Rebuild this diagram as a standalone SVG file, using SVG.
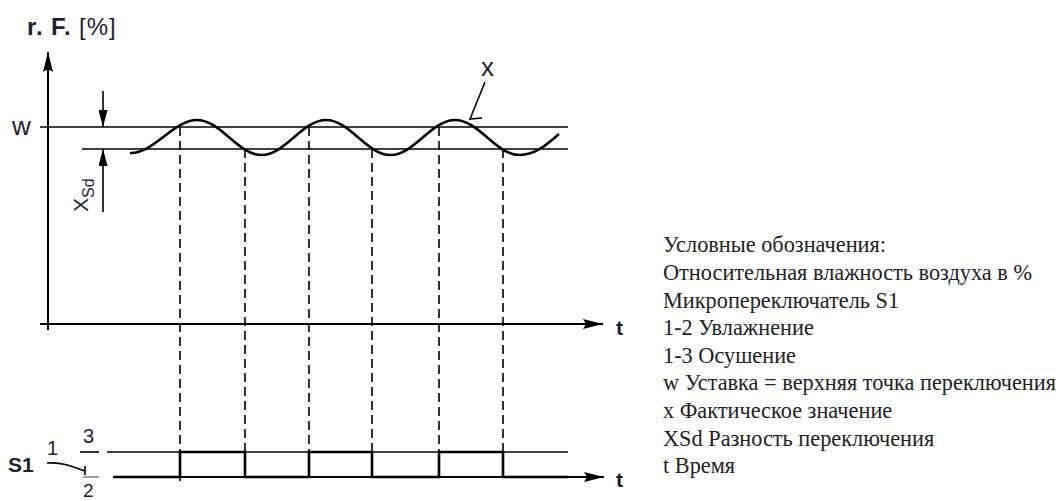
<svg xmlns="http://www.w3.org/2000/svg" width="1063" height="501" viewBox="0 0 1063 501">
<defs>
<style>
.ax{stroke:#000;stroke-width:2;fill:none}
.thin{stroke:#000;stroke-width:1.6;fill:none}
.dash{stroke:#000;stroke-width:1.6;fill:none;stroke-dasharray:9 5}
.sig{stroke:#000;stroke-width:2.6;fill:none}
.wave{stroke:#000;stroke-width:2.6;fill:none}
.lbl{font-family:"Liberation Sans",Arial,sans-serif;fill:#1e2233}
.b{font-weight:bold}
.leg{font-family:"Liberation Serif","Times New Roman",serif;font-size:22.3px;fill:#222}
</style>
<marker id="ah" markerUnits="userSpaceOnUse" markerWidth="20" markerHeight="10" refX="20" refY="5" orient="auto">
<path d="M0,0 L20,5 L0,10 L3,5 z" fill="#000"/>
</marker>
<marker id="dh" markerUnits="userSpaceOnUse" markerWidth="17" markerHeight="9" refX="17" refY="4.5" orient="auto">
<path d="M0,0 L17,4.5 L0,9 z" fill="#000"/>
</marker>
</defs>

<g id="axes">
<line class="ax" x1="48" y1="330" x2="48" y2="52" marker-end="url(#ah)"/>
<line class="ax" x1="40" y1="324" x2="603" y2="324" marker-end="url(#ah)"/>
<line class="ax" x1="113" y1="477" x2="604" y2="477" marker-end="url(#ah)"/>
</g>

<g id="labels">
<text class="lbl" x="27" y="35" font-size="24" letter-spacing="0.9"><tspan class="b">r. F.</tspan> [%]</text>
<text class="lbl" x="12" y="135" font-size="26">w</text>
<text class="lbl" x="481" y="76" font-size="26">x</text>
<text class="lbl b" x="616" y="335" font-size="21">t</text>
<text class="lbl b" x="616" y="487" font-size="21">t</text>
<text class="lbl" transform="translate(88,212) rotate(-90)" font-size="21">X<tspan font-size="16" dy="6">Sd</tspan></text>
<text class="lbl b" x="8" y="472" font-size="21">S1</text>
<text class="lbl" x="47" y="455" font-size="20">1</text>
<text class="lbl" x="83" y="443" font-size="20">3</text>
<text class="lbl" x="83" y="497" font-size="19">2</text>
</g>

<g id="levels">
<line class="thin" x1="40" y1="127" x2="568" y2="127"/>
<line class="thin" x1="82" y1="149" x2="568" y2="149"/>
<line class="thin" x1="80" y1="452" x2="99" y2="452"/>
<line class="thin" x1="107" y1="452" x2="568" y2="452"/>
<line x1="83" y1="477" x2="99" y2="477" stroke="#888" stroke-width="1.6"/>
</g>

<g id="xsd">
<line class="thin" x1="103" y1="91" x2="103" y2="127" marker-end="url(#dh)"/>
<line class="thin" x1="103" y1="212" x2="103" y2="149" marker-end="url(#dh)"/>
</g>

<g id="curve">
<path class="wave" d="M130,153 C153.5,154 173.5,120 197,120 C220.5,120 238,155 261.5,155 C285,155 302.5,120 326,120 C349.5,120 367,155 390.5,155 C414,155 431.5,120 455,120 C478.5,120 496,155 519.5,155 C536,155 547,144 559,134"/>
<path class="thin" d="M485,82 L470,119 L482,118"/>
</g>

<g id="switch">
<path class="thin" d="M47,463 C62,462 72,466 85,471"/>
<line class="thin" x1="85" y1="466" x2="85" y2="475"/>
<path class="sig" d="M113,477 H180 V452 H245 V477 H309 V452 H372 V477 H439 V452 H503 V477 H568"/>
<line class="thin" x1="180" y1="452" x2="180" y2="481"/>
</g>

<g id="connectors">
<line class="dash" x1="180" y1="127" x2="180" y2="452"/>
<line class="dash" x1="245" y1="149" x2="245" y2="452"/>
<line class="dash" x1="309" y1="127" x2="309" y2="452"/>
<line class="dash" x1="372" y1="149" x2="372" y2="452"/>
<line class="dash" x1="439" y1="127" x2="439" y2="452"/>
<line class="dash" x1="503" y1="149" x2="503" y2="452"/>
</g>

<g id="legend">
<text class="leg" x="663" y="252">Условные обозначения:</text>
<text class="leg" x="663" y="280">Относительная влажность воздуха в %</text>
<text class="leg" x="663" y="308">Микропереключатель S1</text>
<text class="leg" x="663" y="335">1-2 Увлажнение</text>
<text class="leg" x="663" y="363">1-3 Осушение</text>
<text class="leg" x="663" y="390">w Уставка = верхняя точка переключения</text>
<text class="leg" x="663" y="418">x Фактическое значение</text>
<text class="leg" x="663" y="446">XSd Разность переключения</text>
<text class="leg" x="663" y="473">t Время</text>
</g>
</svg>
